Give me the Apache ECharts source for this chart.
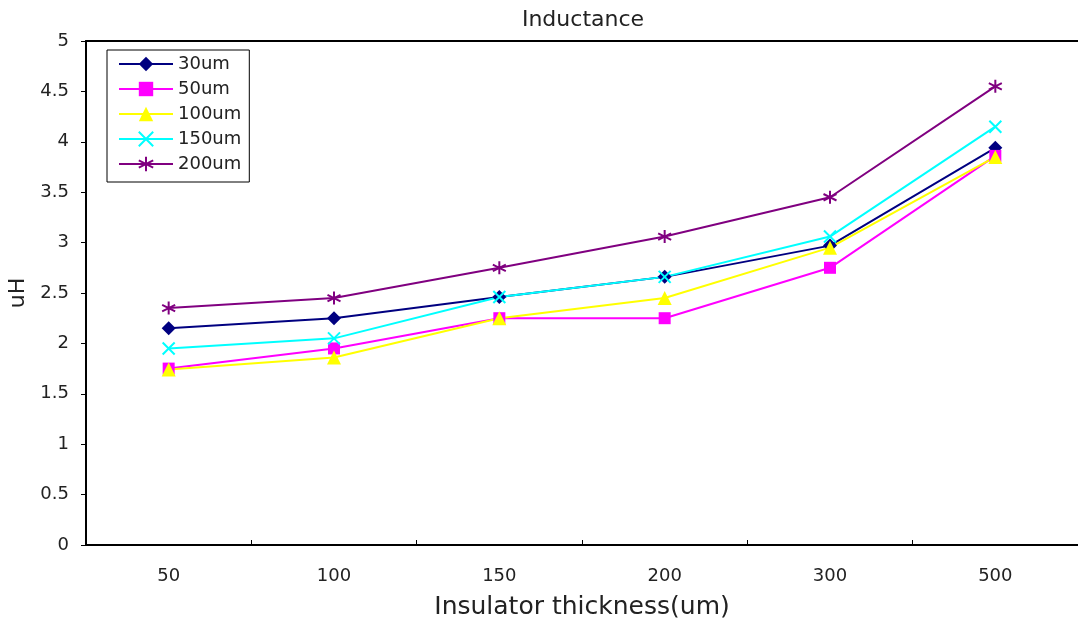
<!DOCTYPE html>
<html>
<head>
<meta charset="utf-8">
<script src="https://cdn.jsdelivr.net/npm/echarts@6/dist/echarts.min.js"></script>
<style>
  html, body { margin: 0; padding: 0; background: #fff; }
  #main { width: 1078px; height: 623px; }
</style>
</head>
<body>
<div id="main"></div>
<script>
var categories = ['50', '100', '150', '200', '300', '500'];
var seriesNames = ['30um', '50um', '100um', '150um', '200um'];
var s30 = [2.15, 2.25, 2.46, 2.66, 2.97, 3.94];
var s50 = [1.75, 1.95, 2.25, 2.25, 2.75, 3.86];
var s100 = [1.74, 1.86, 2.25, 2.45, 2.95, 3.85];
var s150 = [1.95, 2.05, 2.46, 2.66, 3.06, 4.15];
var s200 = [2.35, 2.45, 2.75, 3.06, 3.45, 4.55];

var colors = ['#000080', '#ff00ff', '#ffff00', '#00ffff', '#800080'];
var fontFam = '"DejaVu Sans", sans-serif';

var crossPath = 'path://M0,0L10,10M10,0L0,10';
var starPath = 'path://M5,0L5,10M0.7,2.5L9.3,7.5M9.3,2.5L0.7,7.5';

function mk(name, data, color, symbol, size, stroke) {
    var s = {
        name: name,
        type: 'line',
        data: data,
        symbol: symbol,
        symbolSize: size,
        lineStyle: { color: color, width: 2 },
        itemStyle: { color: color },
        emphasis: { disabled: true }
    };
    if (stroke) {
        s.itemStyle = { color: color, borderColor: color, borderWidth: 2 };
    }
    return s;
}

var chart = echarts.init(document.getElementById('main'));
var option = {
    animation: false,
    color: colors,
    title: {
        text: 'Inductance',
        left: 578,
        textAlign: 'center',
        top: 4,
        textStyle: { fontFamily: fontFam, fontSize: 22, fontWeight: 'normal', color: '#222' }
    },
    legend: {
        left: 107,
        top: 50,
        orient: 'vertical',
        backgroundColor: '#fff',
        borderColor: '#000',
        borderWidth: 1,
        borderRadius: 0,
        padding: [5, 8, 9, 11],
        itemWidth: 54,
        itemHeight: 18,
        itemGap: 7,
        data: seriesNames,
        textStyle: { fontFamily: fontFam, fontSize: 18, color: '#222' }
    },
    grid: { left: 86, right: 0, top: 41, bottom: 78, outerBoundsMode: 'none' },
    xAxis: [{
        type: 'category',
        data: categories,
        boundaryGap: true,
        name: 'Insulator thickness(um)',
        nameLocation: 'middle',
        nameGap: 50,
        nameTextStyle: { fontFamily: fontFam, fontSize: 25, color: '#222' },
        axisLine: { lineStyle: { color: '#000', width: 2 } },
        axisTick: { show: true, inside: true, length: 5, lineStyle: { color: '#000', width: 1 } },
        axisLabel: { margin: 22, fontFamily: fontFam, fontSize: 18, color: '#222' },
        splitLine: { show: false }
    }, {
        type: 'category',
        data: categories,
        position: 'top',
        axisLine: { lineStyle: { color: '#000', width: 2 } },
        axisTick: { show: false },
        axisLabel: { show: false },
        splitLine: { show: false }
    }],
    yAxis: {
        type: 'value',
        min: 0,
        max: 5,
        interval: 0.5,
        name: 'uH',
        nameLocation: 'middle',
        nameGap: 56,
        nameRotate: 90,
        nameTextStyle: { fontFamily: fontFam, fontSize: 22, color: '#222' },
        axisLine: { show: true, lineStyle: { color: '#000', width: 2 } },
        axisTick: { show: true, length: 5, lineStyle: { color: '#000', width: 1 } },
        axisLabel: { margin: 17, fontFamily: fontFam, fontSize: 18, color: '#222' },
        splitLine: { show: false }
    },
    series: [
        mk('30um', s30, colors[0], 'diamond', 14, false),
        mk('50um', s50, colors[1], 'rect', 12, false),
        mk('100um', s100, colors[2], 'triangle', 14, false),
        mk('150um', s150, colors[3], crossPath, 12, true),
        mk('200um', s200, colors[4], starPath, 13, true)
    ]
};
chart.setOption(option);
</script>
</body>
</html>
